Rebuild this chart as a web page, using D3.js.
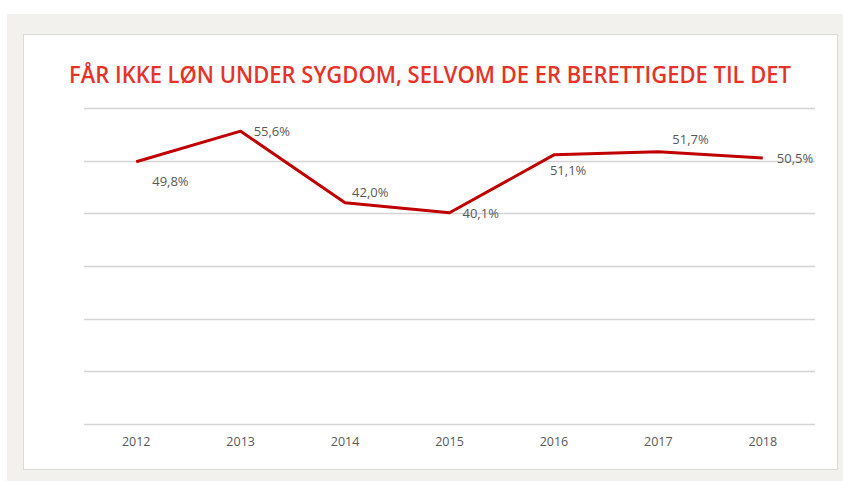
<!DOCTYPE html>
<html>
<head>
<meta charset="utf-8">
<script src="https://cdn.jsdelivr.net/npm/d3@7"></script>
<style>
  body { margin: 0; background: #fff; }
  svg { display: block; }
</style>
</head>
<body>
<div id="chart"></div>
<script>
// data
const years = ["2012", "2013", "2014", "2015", "2016", "2017", "2018"];
const values = [49.8, 55.6, 42.0, 40.1, 51.1, 51.7, 50.5];
const yTicks = [0, 10, 20, 30, 40, 50, 60];
const title = "FÅR IKKE LØN UNDER SYGDOM, SELVOM DE ER BERETTIGEDE TIL DET";

// label placement relative to the point (like Excel's auto labels)
const labelOffsets = [
    {dx: 16, dy: 20},
    {dx: 13, dy: 0},
    {dx: 7, dy: -10},
    {dx: 13, dy: 1},
    {dx: -4, dy: 16},
    {dx: 14, dy: -12},
    {dx: 14, dy: 0}
];

const W = 843, H = 481;
const margin = {top: 108, right: 28, bottom: 57, left: 84};
const width = W - margin.left - margin.right;
const height = H - margin.top - margin.bottom;

const svg = d3.select("#chart").append("svg")
    .attr("width", W)
    .attr("height", H);

// grey frame + white panel
svg.append("rect")
    .attr("x", 7).attr("y", 14)
    .attr("width", 836).attr("height", 467)
    .attr("fill", "#f2f1ed");

svg.append("rect")
    .attr("x", 23.5).attr("y", 34.5)
    .attr("width", 814).attr("height", 435)
    .attr("fill", "#fff")
    .attr("stroke", "#d9d9d9")
    .attr("stroke-width", 1);

svg.append("text")
    .attr("x", 430)
    .attr("y", 83)
    .attr("text-anchor", "middle")
    .attr("fill", "#e63329")
    .style("font-family", "'Open Sans', sans-serif")
    .style("font-weight", 600)
    .style("font-size", "22.5px")
    .attr("textLength", 722)
    .attr("lengthAdjust", "spacingAndGlyphs")
    .text(title);

const g = svg.append("g")
    .attr("transform", "translate(" + margin.left + "," + margin.top + ")");

const x = d3.scaleBand()
    .domain(years)
    .range([0, width]);

const y = d3.scaleLinear()
    .domain([0, 60])
    .range([height, 0]);

// gridlines
g.append("g")
    .selectAll("line")
    .data(yTicks)
    .enter()
    .append("line")
    .attr("x1", 0)
    .attr("x2", width)
    .attr("y1", d => Math.round(y(d)) + 0.5)
    .attr("y2", d => Math.round(y(d)) + 0.5)
    .attr("stroke", "#d4d4d4")
    .attr("stroke-width", 1.3);

// x axis
const xAxis = g.append("g")
    .attr("transform", "translate(0," + height + ")")
    .call(d3.axisBottom(x).tickSize(0).tickPadding(13));
xAxis.select(".domain").remove();
xAxis.selectAll("text")
    .attr("fill", "#595959")
    .style("font-family", "'Open Sans', sans-serif")
    .style("font-size", "12.5px");

// line
const line = d3.line()
    .x((d, i) => x(years[i]) + x.bandwidth() / 2)
    .y(d => y(d));

g.append("path")
    .datum(values)
    .attr("fill", "none")
    .attr("stroke", "#c00000")
    .attr("stroke-width", 3)
    .attr("stroke-linejoin", "round")
    .attr("d", line);

// data labels
g.append("g")
    .selectAll("text")
    .data(values)
    .enter()
    .append("text")
    .attr("x", (d, i) => x(years[i]) + x.bandwidth() / 2 + labelOffsets[i].dx)
    .attr("y", (d, i) => y(d) + labelOffsets[i].dy)
    .attr("dy", "0.35em")
    .attr("fill", "#595959")
    .style("font-family", "'Open Sans', sans-serif")
    .style("font-size", "13px")
    .text(d => d.toFixed(1).replace(".", ",") + "%");
</script>
</body>
</html>
